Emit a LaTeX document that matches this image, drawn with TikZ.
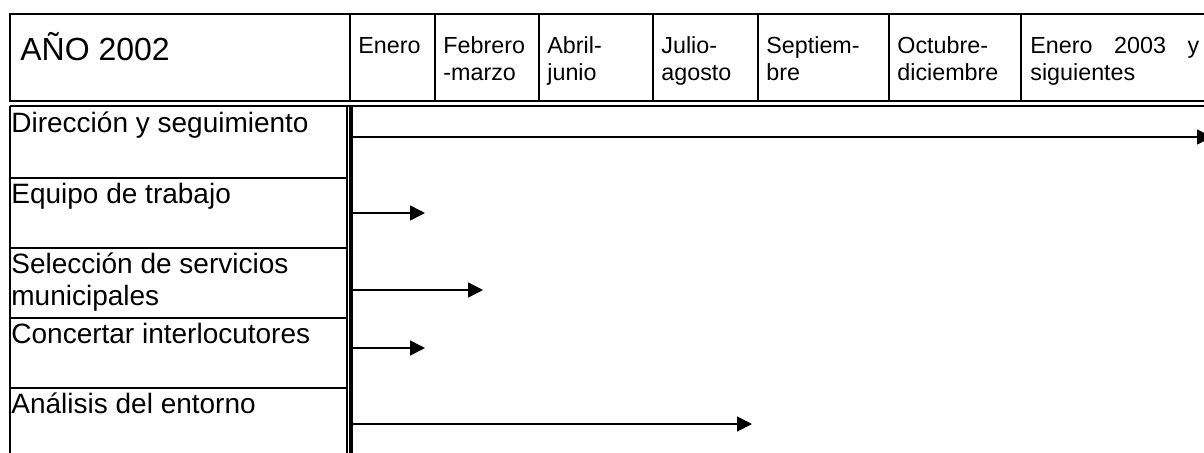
\documentclass[tikz,border=0pt]{standalone}
\usepackage{fontspec}
\setmainfont{Liberation Sans}
\usetikzlibrary{arrows.meta,positioning}

\begin{document}
\begin{tikzpicture}[x=0.5pt,y=-0.5pt,
	rule/.style={line width=1pt},
	month/.style={anchor=base west,align=left,inner sep=0pt,font=\fontsize{11.65}{13.5}\selectfont},
	task/.style={anchor=base west,align=left,inner sep=0pt,font=\fontsize{14}{16}\selectfont},
	bar/.style={line width=0.8pt,-{Triangle[length=7.5pt,width=7.5pt]}}]

	\fill[white] (0,0) rectangle (1204,452);
	\useasboundingbox (0,0) rectangle (1204,452);

	% cabecera
	\draw[rule] (1214,14) -- (10,14) -- (10,101) -- (1214,101);
	\draw[rule] (10,106) -- (1214,106);
	\foreach \x in {350,435,539,653,758,889,1021}
		\draw[rule] (\x,14) -- (\x,101);

	\node[anchor=base west,inner sep=0pt,font=\fontsize{16}{19}\selectfont] (a) at (20,60) {AÑO 2002};
	\node[month] (m1) at (358,53) {Enero};
	\node[month] (m2) at (443,80) {Febrero\\-marzo};
	\node[month] (m3) at (547,80) {Abril-\\junio};
	\node[month] (m4) at (661,80) {Julio-\\agosto};
	\node[month] (m5) at (766,80) {Septiem-\\bre};
	\node[month] (m6) at (897,80) {Octubre-\\diciembre};
	\node[month,text width=84.5pt,align=justify] (m7) at (1030,53) {Enero 2003 y siguientes};

	% tareas
	\draw[rule] (10,106) -- (10,460);
	\draw[rule] (347,106) -- (347,460);
	\draw[line width=1.75pt] (351,106) -- (351,460);
	\foreach \y in {178,248,318,388}
		\draw[rule] (10,\y) -- (347,\y);

	\node[task] (r1) at (11,132) {Dirección y seguimiento};
	\node[task] (r2) at (11,203) {Equipo de trabajo};
	\node[task] (r3) at (11,305) {Selección de servicios\\municipales};
	\node[task] (r4) at (11,343) {Concertar interlocutores};
	\node[task] (r5) at (11,413) {Análisis del entorno};

	\foreach \y/\e [count=\i] in {137/1212,213/425,290/483,348/425,424/752}{
		\coordinate (s\i) at (353,\y);
		\coordinate (e\i) at (\e,\y);
		\draw[bar] (s\i) -- (e\i);
	}
\end{tikzpicture}
\end{document}
